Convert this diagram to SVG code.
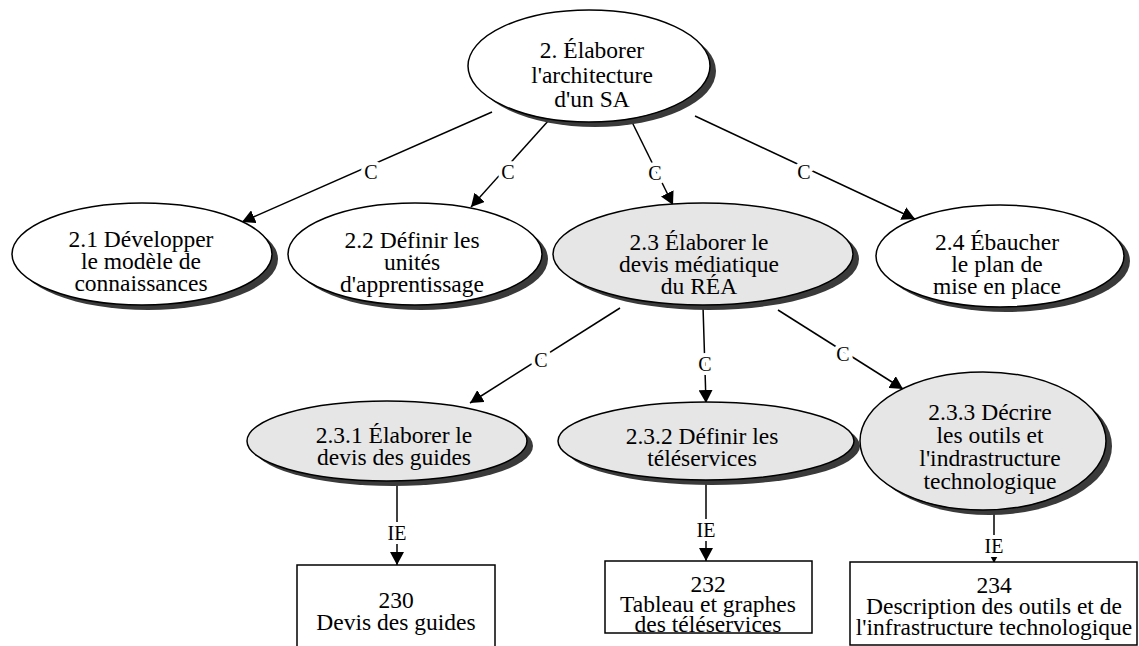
<svg xmlns="http://www.w3.org/2000/svg" width="1139" height="646" viewBox="0 0 1139 646">
<defs>
<marker id="arr" markerWidth="14" markerHeight="14" refX="13" refY="7" orient="auto" markerUnits="userSpaceOnUse">
<path d="M0,0 L13,7 L0,14 z" fill="#000"/>
</marker>
<style>
.sh{fill:#3a3a3a;stroke:none}
.ew{fill:#fff;stroke:#000;stroke-width:1.5}
.eg{fill:#e6e6e6;stroke:#000;stroke-width:1.5}
.bx{fill:#fff;stroke:#000;stroke-width:1.5}
.t{font-family:"Liberation Serif","Times New Roman",serif;font-size:23.5px;text-anchor:middle;fill:#000}
.ln{stroke:#000;stroke-width:1.5;fill:none;marker-end:url(#arr)}
.lb{font-family:"Liberation Serif","Times New Roman",serif;font-size:20px;text-anchor:middle;fill:#000;stroke:#fff;stroke-width:8;paint-order:stroke;stroke-linejoin:round}
</style>
</defs>
<rect width="1139" height="646" fill="#fff"/>
<g id="connectors">
<line class="ln" x1="492" y1="112" x2="242" y2="222"/>
<line class="ln" x1="549" y1="120" x2="471" y2="207"/>
<line class="ln" x1="631" y1="120" x2="673" y2="205"/>
<line class="ln" x1="695" y1="116" x2="915" y2="219"/>
<line class="ln" x1="620" y1="308" x2="470" y2="403"/>
<line class="ln" x1="703" y1="306" x2="706" y2="403"/>
<line class="ln" x1="778" y1="310" x2="903" y2="389"/>
<line class="ln" x1="397" y1="481" x2="397" y2="565"/>
<line class="ln" x1="706" y1="480" x2="706" y2="561"/>
<line class="ln" x1="994" y1="510" x2="994" y2="563"/>
<text class="lb" x="371" y="179">C</text>
<text class="lb" x="508" y="179">C</text>
<text class="lb" x="655" y="180">C</text>
<text class="lb" x="804" y="179">C</text>
<text class="lb" x="541" y="367">C</text>
<text class="lb" x="705" y="371">C</text>
<text class="lb" x="843" y="361">C</text>
<text class="lb" x="397" y="540">IE</text>
<text class="lb" x="706" y="537">IE</text>
<text class="lb" x="994" y="553">IE</text>
</g>
<g id="n2">
<ellipse class="sh" cx="595" cy="71" rx="121" ry="56"/>
<ellipse class="ew" cx="589" cy="66" rx="121" ry="56"/>
<text class="t" x="592" y="58">2. Élaborer</text>
<text class="t" x="592" y="83">l'architecture</text>
<text class="t" x="592" y="107">d'un SA</text>
</g>
<g id="n21">
<ellipse class="sh" cx="148" cy="259" rx="130" ry="51"/>
<ellipse class="ew" cx="142" cy="254" rx="130" ry="51"/>
<text class="t" x="141" y="247">2.1 Développer</text>
<text class="t" x="141" y="269">le modèle de</text>
<text class="t" x="141" y="291">connaissances</text>
</g>
<g id="n22">
<ellipse class="sh" cx="421" cy="259" rx="127" ry="51"/>
<ellipse class="ew" cx="415" cy="254" rx="127" ry="51"/>
<text class="t" x="412" y="248">2.2 Définir les</text>
<text class="t" x="412" y="270">unités</text>
<text class="t" x="412" y="292">d'apprentissage</text>
</g>
<g id="n23">
<ellipse class="sh" cx="709" cy="259" rx="150" ry="51"/>
<ellipse class="eg" cx="703" cy="254" rx="150" ry="51"/>
<text class="t" x="699" y="250">2.3 Élaborer le</text>
<text class="t" x="699" y="272">devis médiatique</text>
<text class="t" x="699" y="294">du RÉA</text>
</g>
<g id="n24">
<ellipse class="sh" cx="1006" cy="261" rx="124" ry="51"/>
<ellipse class="ew" cx="1000" cy="256" rx="124" ry="51"/>
<text class="t" x="997" y="250">2.4 Ébaucher</text>
<text class="t" x="997" y="272">le plan de</text>
<text class="t" x="997" y="294">mise en place</text>
</g>
<g id="n231">
<ellipse class="sh" cx="393" cy="446" rx="140" ry="40"/>
<ellipse class="eg" cx="387" cy="441" rx="140" ry="40"/>
<text class="t" x="394" y="443">2.3.1 Élaborer le</text>
<text class="t" x="394" y="465">devis des guides</text>
</g>
<g id="n232">
<ellipse class="sh" cx="712" cy="446" rx="148" ry="39"/>
<ellipse class="eg" cx="706" cy="441" rx="148" ry="39"/>
<text class="t" x="702" y="444">2.3.2 Définir les</text>
<text class="t" x="702" y="466">téléservices</text>
</g>
<g id="n233">
<ellipse class="sh" cx="989" cy="446" rx="123" ry="69"/>
<ellipse class="eg" cx="983" cy="441" rx="123" ry="69"/>
<text class="t" x="990" y="420">2.3.3 Décrire</text>
<text class="t" x="990" y="443">les outils et</text>
<text class="t" x="990" y="466">l'indrastructure</text>
<text class="t" x="990" y="489">technologique</text>
</g>
<g id="b230">
<rect class="bx" x="297" y="565" width="198" height="95"/>
<text class="t" x="396" y="608">230</text>
<text class="t" x="396" y="630">Devis des guides</text>
</g>
<g id="b232">
<rect class="bx" x="605" y="561" width="207" height="72"/>
<text class="t" x="708" y="592">232</text>
<text class="t" x="708" y="612">Tableau et graphes</text>
<text class="t" x="708" y="632">des téléservices</text>
</g>
<g id="b234">
<rect class="bx" x="850" y="562" width="287" height="83"/>
<text class="t" x="994" y="593">234</text>
<text class="t" x="994" y="614">Description des outils et de</text>
<text class="t" x="994" y="635">l'infrastructure technologique</text>
</g>
</svg>
